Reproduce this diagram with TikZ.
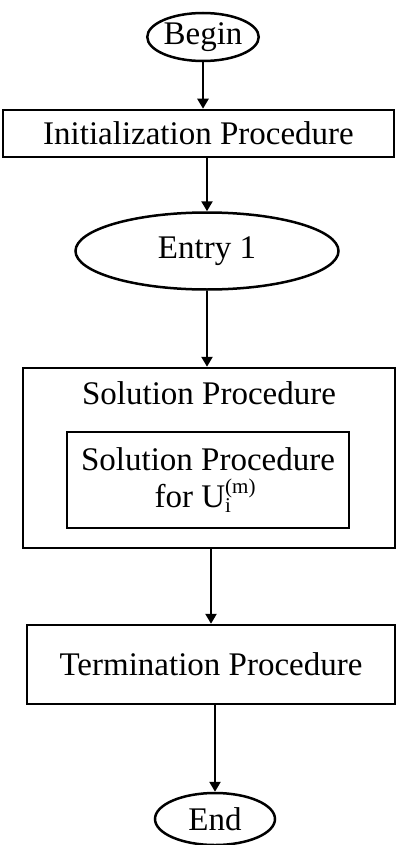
\documentclass[tikz,border=0pt]{standalone}
\usepackage{fontspec}
\setmainfont{Liberation Serif}
\usetikzlibrary{shapes.geometric,arrows.meta}

\newcommand{\idxfont}{\fontsize{21}{21}\selectfont}

\tikzset{
  flow/.style={line width=2.5pt},
  term/.style={flow, draw, ellipse, inner sep=0pt},
  proc/.style={flow, draw, rectangle, inner sep=0pt},
  conn/.style={flow, -{Triangle[length=10pt,width=11pt]}},
  lbl/.style={font=\fontsize{33}{40}\selectfont}
}

\begin{document}
\begin{tikzpicture}[x=1pt,y=1pt,lbl]
\useasboundingbox (0,0) rectangle (396,-845);

\node[term, minimum width=111pt, minimum height=48pt] (begin) at (203,-37) {Begin};
\node[proc, minimum width=391pt, minimum height=47pt] (init) at (198.5,-133.5) {Initialization Procedure};
\node[term, minimum width=263pt, minimum height=77pt] (entry) at (207,-251) {Entry 1};

\node[proc, minimum width=372pt, minimum height=180pt] (sol) at (209,-458) {};
\node (soltitle) at (209,-393) {Solution Procedure};
\node[proc, minimum width=282pt, minimum height=96pt, align=center] (inner) at (208,-480)
  {Solution Procedure\\[-3pt]
   for U\rlap{\raisebox{14pt}{\idxfont (m)}}\raisebox{-5pt}{\idxfont i}\phantom{\idxfont (m)}};

\node[proc, minimum width=368pt, minimum height=79pt] (termproc) at (211,-664.5) {Termination Procedure};
\node[term, minimum width=120pt, minimum height=52pt] (end) at (215,-819) {End};

\draw[conn] (begin.south) -- (begin.south |- init.north);
\draw[conn] (entry.north |- init.south) -- (entry.north);
\draw[conn] (entry.south) -- (entry.south |- sol.north);
\draw[conn] (termproc.north |- sol.south) -- (termproc.north);
\draw[conn] (end.north |- termproc.south) -- (end.north);
\end{tikzpicture}
\end{document}
